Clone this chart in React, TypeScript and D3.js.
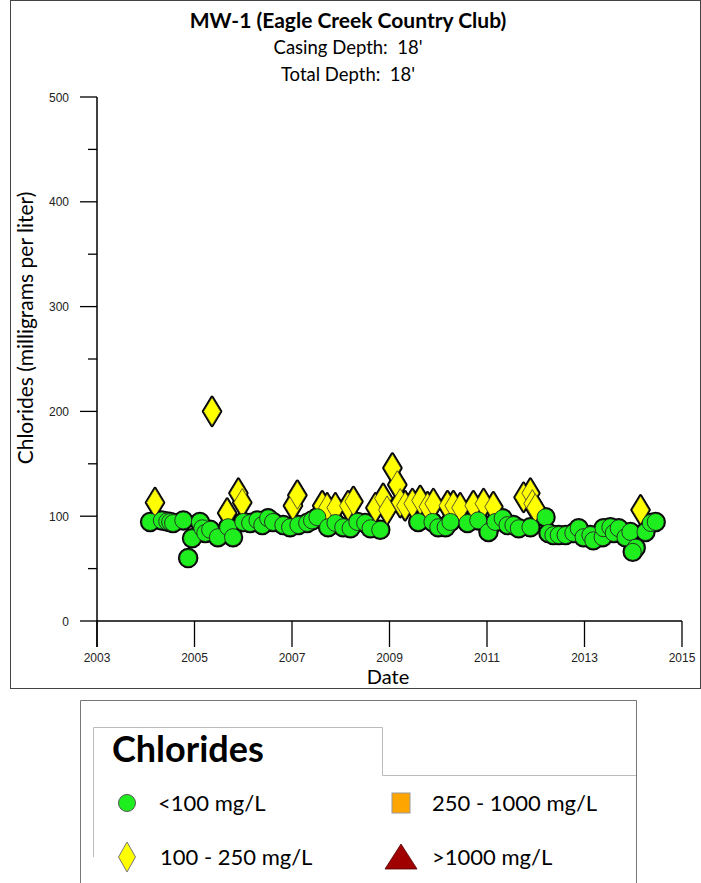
import React from "react";
import * as d3 from "d3";

// ---- Data (decimal year, mg/L) ----
const lowDates = [
  2004.09, 2004.33, 2004.44, 2004.5, 2004.56, 2004.77, 2004.87, 2004.95, 2005.11, 2005.16,
  2005.22, 2005.32, 2005.48, 2005.69, 2005.79, 2006.0, 2006.14, 2006.29, 2006.39, 2006.51,
  2006.61, 2006.82, 2006.96, 2007.13, 2007.31, 2007.41, 2007.52, 2007.74, 2007.89, 2008.05,
  2008.2, 2008.34, 2008.5, 2008.61, 2008.81, 2009.59, 2009.88, 2010.0, 2010.15, 2010.25,
  2010.6, 2010.82, 2011.03, 2011.17, 2011.32, 2011.42, 2011.54, 2011.65, 2011.89, 2012.2,
  2012.26, 2012.36, 2012.47, 2012.61, 2012.77, 2012.88, 2012.98, 2013.12, 2013.18, 2013.37,
  2013.39, 2013.53, 2013.6, 2013.7, 2013.84, 2013.94, 2014.05, 2013.99, 2014.25, 2014.36,
  2014.46,
];
const lowValues = [
  94.5, 96, 95, 94.5, 93.5, 96, 60, 79, 94.5, 88.5,
  84, 87, 80, 89.5, 80, 94.5, 93.5, 96, 91.5, 98,
  94.5, 91.5, 89.5, 91.5, 93.5, 96, 99, 89.5, 93.5, 89.5,
  88.5, 94.5, 93.5, 88.5, 87, 94.5, 94.5, 89.5, 89.5, 94.5,
  93.5, 96, 85, 94.5, 98, 91.5, 91.5, 88.5, 89.5, 99,
  84, 82, 82, 82, 84, 88.5, 80, 82, 77, 80,
  88.5, 89.5, 84, 88.5, 80, 85, 70, 66, 85, 93.5,
  94.5,
];

const midDates = [
  2004.19, 2005.36, 2005.67, 2005.9, 2005.98, 2007.02, 2007.11, 2007.62, 2007.72, 2007.89,
  2008.15, 2008.26, 2008.71, 2008.87, 2008.95, 2009.06, 2009.16, 2009.22, 2009.32, 2009.47,
  2009.63, 2009.78, 2009.9, 2010.19, 2010.31, 2010.45, 2010.72, 2010.93, 2011.13, 2011.75,
  2011.89, 2011.93, 2011.99, 2014.15,
];
const midValues = [
  113, 200, 103, 122, 113, 110, 120, 110, 108, 108,
  110, 114, 108, 117, 106, 146, 130, 113, 110, 112,
  115, 109, 112, 110, 110, 108, 110, 112, 109, 118,
  122, 112, 108, 106,
];

const xTicks = [2003, 2005, 2007, 2009, 2011, 2013, 2015];
const yTicks = [0, 100, 200, 300, 400, 500];
const yMinorTicks = [50, 150, 250, 350, 450];

const legendItems = [
  { label: "<100 mg/L", shape: "circle", color: "#1eee1e" },
  { label: "100 - 250 mg/L", shape: "diamond", color: "#ffff00" },
  { label: "250 - 1000 mg/L", shape: "square", color: "#ffa500" },
  { label: ">1000 mg/L", shape: "triangle", color: "#a00000" },
];

const GREEN = "#1eee1e";
const YELLOW = "#ffff00";
const CAL = "Lato, 'Open Sans', sans-serif";
const ARIAL = "'Liberation Sans', Arial, sans-serif";

const diamondPath = (cx: number, cy: number, hw: number, hh: number) =>
  `M${cx},${cy - hh}L${cx + hw},${cy}L${cx},${cy + hh}L${cx - hw},${cy}Z`;

export default function App() {
  const x = d3.scaleLinear().domain([2003, 2015]).range([97, 682]);
  const y = d3.scaleLinear().domain([0, 500]).range([621, 97]);

  const lows = lowDates.map((d, i) => ({ cx: x(d), cy: y(lowValues[i]) }));
  const mids = midDates.map((d, i) => ({ cx: x(d), cy: y(midValues[i]) }));

  const R = 8.5;
  const DW = 8.5;
  const DH = 14;

  return (
    <svg
      width={701}
      height={883}
      style={{ position: "absolute", left: 0, top: 0, background: "#fff" }}
    >
      <rect x={0} y={0} width={701} height={883} fill="#fff" />
      {/* chart frame */}
      <rect x={10.5} y={0.5} width={690} height={688} fill="none" stroke="#444" strokeWidth={1} />

      {/* titles */}
      <text x={348} y={28} textAnchor="middle" fontFamily={CAL} fontWeight="bold" fontSize={21} fill="#000">
        MW-1 (Eagle Creek Country Club)
      </text>
      <text x={348} y={54} textAnchor="middle" fontFamily={CAL} fontSize={18.5} fill="#000" style={{ whiteSpace: "pre" }}>
        {"Casing Depth:  18'"}
      </text>
      <text x={348} y={81} textAnchor="middle" fontFamily={CAL} fontSize={18.5} fill="#000" style={{ whiteSpace: "pre" }}>
        {"Total Depth:  18'"}
      </text>

      {/* y axis */}
      <line x1={97} x2={97} y1={y(500)} y2={647} stroke="#000" strokeWidth={1.5} />
      {yTicks.map((t) => (
        <g key={"yt" + t}>
          <line x1={80} x2={97} y1={y(t)} y2={y(t)} stroke="#000" strokeWidth={1.3} />
          <text x={69} y={y(t) + 4.5} textAnchor="end" fontFamily={ARIAL} fontSize={12} fill="#222">
            {t}
          </text>
        </g>
      ))}
      {yMinorTicks.map((t) => (
        <line key={"ym" + t} x1={88} x2={97} y1={y(t)} y2={y(t)} stroke="#000" strokeWidth={1.3} />
      ))}
      <text
        transform={`translate(33, ${328}) rotate(-90)`}
        textAnchor="middle"
        fontFamily={CAL}
        fontSize={21}
        fill="#000"
      >
        Chlorides (milligrams per liter)
      </text>

      {/* x axis */}
      <line x1={97} x2={682} y1={y(0)} y2={y(0)} stroke="#000" strokeWidth={1.5} />
      {xTicks.map((t) => (
        <g key={"xt" + t}>
          <line x1={x(t)} x2={x(t)} y1={y(0)} y2={647} stroke="#000" strokeWidth={1.3} />
          <text x={x(t)} y={662} textAnchor="middle" fontFamily={ARIAL} fontSize={12} fill="#222">
            {t}
          </text>
        </g>
      ))}
      <text x={388} y={684} textAnchor="middle" fontFamily={CAL} fontSize={20} fill="#000">
        Date
      </text>

      {/* halo pass */}
      <g fill="#000" stroke="#000" strokeWidth={3.5} strokeLinejoin="round">
        {mids.map((p, i) => (
          <path key={"hm" + i} d={diamondPath(p.cx, p.cy, DW, DH)} />
        ))}
        {lows.map((p, i) => (
          <circle key={"hl" + i} cx={p.cx} cy={p.cy} r={R} />
        ))}
      </g>
      {/* diamonds */}
      <g fill={YELLOW} stroke="#333" strokeWidth={0.8}>
        {mids.map((p, i) => (
          <path key={"m" + i} d={diamondPath(p.cx, p.cy, DW, DH)} />
        ))}
      </g>
      {/* circles */}
      <g fill={GREEN} stroke="#222" strokeWidth={0.9}>
        {lows.map((p, i) => (
          <circle key={"l" + i} cx={p.cx} cy={p.cy} r={R} />
        ))}
      </g>

      {/* legend */}
      <path d="M80.5,883 V700.5 H636.5 V883" fill="none" stroke="#777" strokeWidth={1} />
      <path d="M93.5,857 V727.5 H382.5 V775.5 H636" fill="none" stroke="#bbb" strokeWidth={1} />
      <text x={112} y={762} fontFamily={CAL} fontWeight="bold" fontSize={36} fill="#000">
        Chlorides
      </text>
      {legendItems.map((it, i) => {
        const col = i < 2 ? 0 : 1;
        const row = i % 2;
        const mx = col === 0 ? 127 : 401;
        const my = row === 0 ? 803 : 857;
        const tx = col === 0 ? (row === 0 ? 158 : 160) : 432;
        let marker: React.ReactNode = null;
        if (it.shape === "circle")
          marker = <circle cx={mx} cy={my} r={8.5} fill={it.color} stroke="#555" strokeWidth={1} />;
        else if (it.shape === "diamond")
          marker = <path d={diamondPath(mx, my, 8.5, 15)} fill={it.color} stroke="#777" strokeWidth={1} />;
        else if (it.shape === "square")
          marker = <rect x={mx - 9} y={my - 10} width={18} height={20} fill={it.color} stroke="#999" strokeWidth={1} />;
        else
          marker = (
            <path d={`M${mx},${my - 13}L${mx + 16},${my + 12}L${mx - 16},${my + 12}Z`} fill={it.color} stroke="#500" strokeWidth={0.8} />
          );
        return (
          <g key={"lg" + i}>
            {marker}
            <text x={tx} y={my + 8} fontFamily={CAL} fontSize={22} fill="#000">
              {it.label}
            </text>
          </g>
        );
      })}
    </svg>
  );
}
